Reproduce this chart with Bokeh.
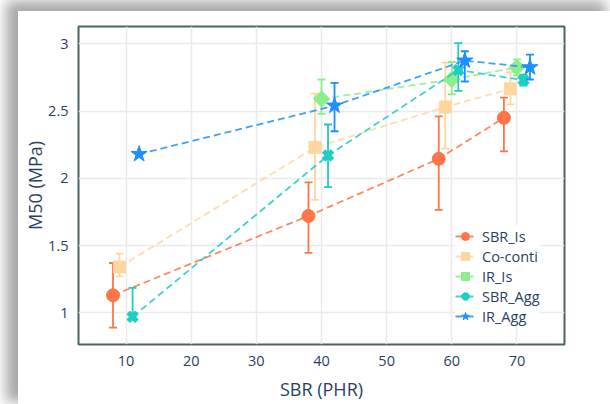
import math
from bokeh.plotting import figure
from bokeh.models import Range1d, FixedTicker, NumeralTickFormatter, Legend, LegendItem
from bokeh.embed import file_html
from bokeh.resources import INLINE

# ---------------- data ----------------
series_names = ["SBR_Is", "Co-conti", "IR_Is", "SBR_Agg", "IR_Agg"]

sbr_is_x = [8, 38, 58, 68]
sbr_is_y = [1.13, 1.72, 2.145, 2.45]
sbr_is_up = [0.24, 0.25, 0.315, 0.15]
sbr_is_dn = [0.24, 0.275, 0.38, 0.25]

coconti_x = [9, 39, 59, 69]
coconti_y = [1.34, 2.23, 2.53, 2.665]
coconti_up = [0.10, 0.40, 0.33, 0.125]
coconti_dn = [0.07, 0.39, 0.31, 0.115]

ir_is_x = [40, 60, 70]
ir_is_y = [2.59, 2.735, 2.825]
ir_is_up = [0.145, 0.13, 0.06]
ir_is_dn = [0.11, 0.11, 0.06]

sbr_agg_x = [11, 41, 61, 71]
sbr_agg_y = [0.97, 2.17, 2.805, 2.73]
sbr_agg_up = [0.215, 0.23, 0.20, 0.04]
sbr_agg_dn = [0.02, 0.235, 0.155, 0.04]

ir_agg_x = [12, 42, 62, 72]
ir_agg_y = [2.18, 2.54, 2.875, 2.825]
ir_agg_up = [0.0, 0.17, 0.07, 0.095]
ir_agg_dn = [0.0, 0.19, 0.155, 0.09]

x_ticks = [10, 20, 30, 40, 50, 60, 70]
y_ticks = [1, 1.5, 2, 2.5, 3]
x_title = "SBR (PHR)"
y_title = "M50 (MPa)"

# ---------------- styles ----------------
FONT = "Open Sans"
TXT = "#2a3f5f"
styles = [
    dict(color="#FF7448", marker="circle", size=13, angle=0.0, lw=1),
    dict(color="#FFD6A0", marker="square", size=12, angle=0.0, lw=1),
    dict(color="#8CEE8C", marker="square", size=11.5, angle=math.pi / 4, lw=1),
    dict(color="#1ECDC4", marker="x", size=12.5, angle=0.0, lw=5),
    dict(color="#1E8FFF", marker="star", size=17, angle=0.0, lw=1),
]
data = [
    (sbr_is_x, sbr_is_y, sbr_is_up, sbr_is_dn),
    (coconti_x, coconti_y, coconti_up, coconti_dn),
    (ir_is_x, ir_is_y, ir_is_up, ir_is_dn),
    (sbr_agg_x, sbr_agg_y, sbr_agg_up, sbr_agg_dn),
    (ir_agg_x, ir_agg_y, ir_agg_up, ir_agg_dn),
]

p = figure(
    width=592, height=393,
    x_range=Range1d(2.7, 77.3), y_range=Range1d(0.764, 3.129),
    output_backend="svg", toolbar_location=None,
    min_border_left=60, min_border_right=46, min_border_top=15, min_border_bottom=60,
    background_fill_color="white", border_fill_color="white",
)
p.styles = {
    "margin-left": "18px",
    "margin-top": "11px",
    "box-shadow": "-8px -6px 12px 4px rgba(0,0,0,0.34)",
}

p.outline_line_color = "#4B6464"
p.outline_line_width = 2

for ax in (p.xaxis[0], p.yaxis[0]):
    ax.axis_line_color = None
    ax.major_tick_line_color = None
    ax.minor_tick_line_color = None
    ax.major_label_text_font = FONT
    ax.major_label_text_font_size = "14.5px"
    ax.major_label_text_color = TXT
    ax.axis_label_text_font = FONT
    ax.axis_label_text_font_size = "18px"
    ax.axis_label_text_font_style = "normal"
    ax.axis_label_text_color = TXT

p.xaxis.ticker = FixedTicker(ticks=x_ticks)
p.yaxis.ticker = FixedTicker(ticks=y_ticks)
p.yaxis.formatter = NumeralTickFormatter(format="0.[0]")
p.xaxis.axis_label = x_title
p.yaxis.axis_label = y_title
p.xaxis.major_label_standoff = 5
p.xaxis.axis_label_standoff = 8
p.yaxis.major_label_standoff = 4
p.yaxis.axis_label_standoff = -2

p.xgrid.grid_line_color = "#E9EAEC"
p.ygrid.grid_line_color = "#E9EAEC"
p.xgrid.grid_line_width = 1.5
p.ygrid.grid_line_width = 1.5

items = []
for name, (xs, ys, up, dn), st in zip(series_names, data, styles):
    c = st["color"]
    upper = [y + u for y, u in zip(ys, up)]
    lower = [y - d for y, d in zip(ys, dn)]
    lr = p.line(xs, ys, line_color=c, line_width=1.8, line_dash="7 4", line_alpha=0.85)
    p.segment(xs, lower, xs, upper, line_color=c, line_width=1.8)
    p.scatter(xs, upper, marker="dash", size=8, line_color=c, line_width=1.8)
    p.scatter(xs, lower, marker="dash", size=8, line_color=c, line_width=1.8)
    sr = p.scatter(xs, ys, marker=st["marker"], size=st["size"], angle=st["angle"],
                   fill_color=c, line_color=c, line_width=st["lw"])
    items.append(LegendItem(label=name, renderers=[lr, sr]))

legend = Legend(
    items=items, location=(377, 18),
    glyph_width=20, glyph_height=20, label_height=20, spacing=0,
    padding=5, margin=0, label_standoff=7,
    label_text_font=FONT, label_text_font_size="14.5px", label_text_color=TXT,
    border_line_color=None, background_fill_color="white", background_fill_alpha=1.0,
)
p.add_layout(legend, "center")

open("out.html", "w").write(file_html(p, INLINE))
